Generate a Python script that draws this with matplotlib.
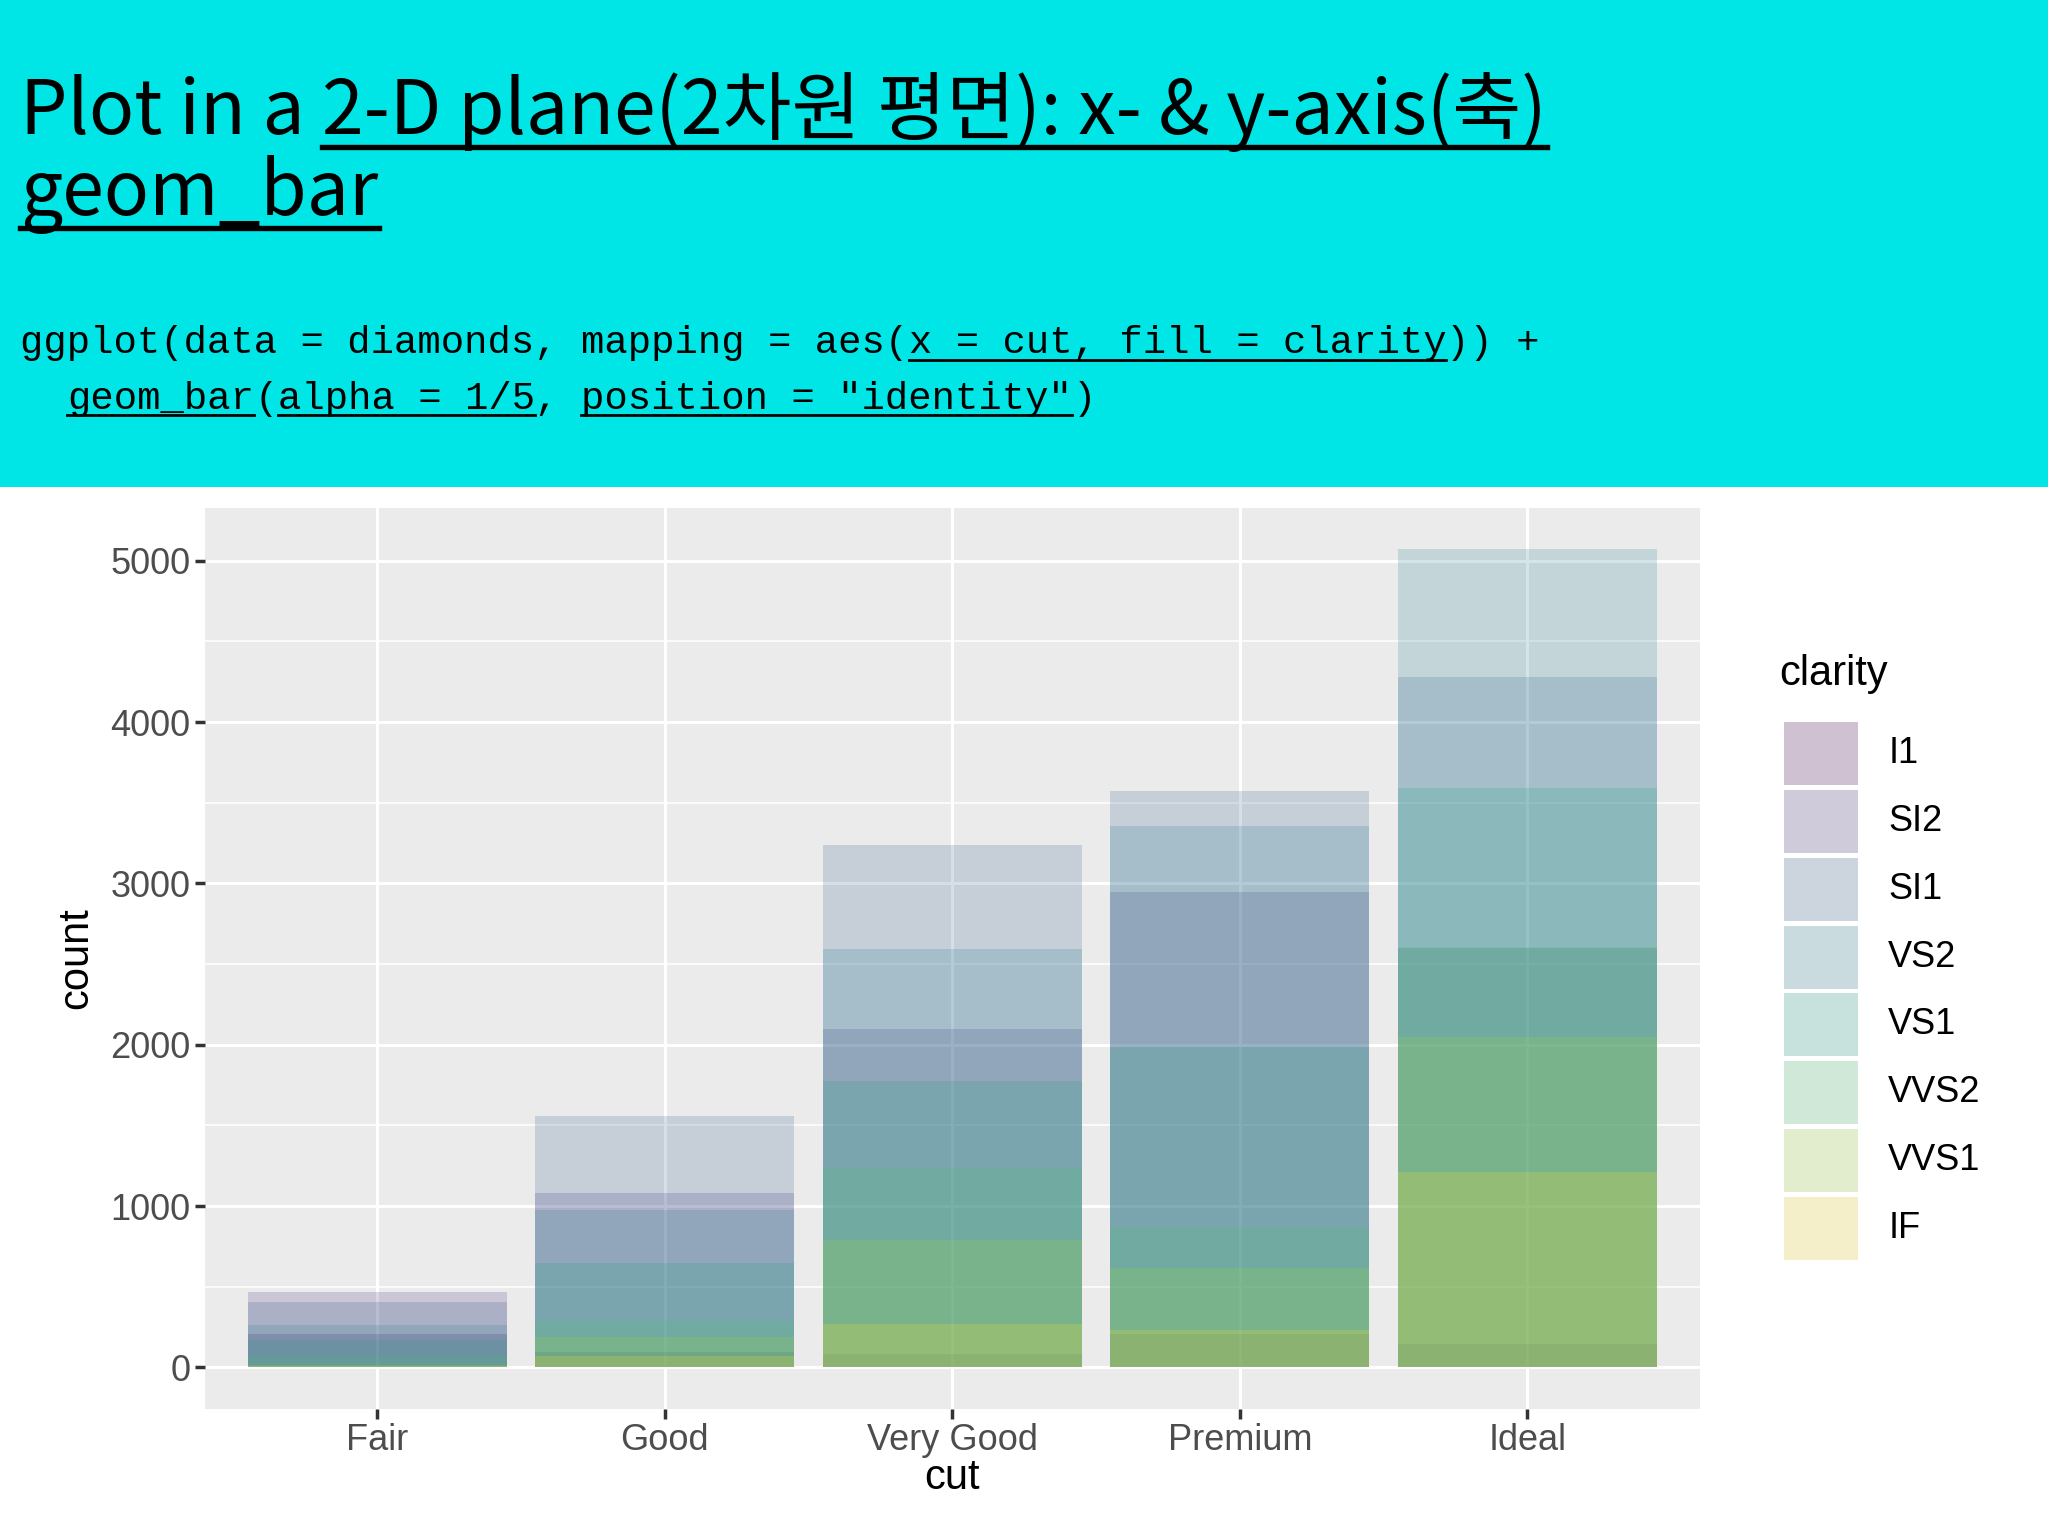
import matplotlib
matplotlib.use("Agg")
import matplotlib.pyplot as plt
import matplotlib.patches as patches
import numpy as np

# diamonds: counts by cut and clarity
cuts = ["Fair", "Good", "Very Good", "Premium", "Ideal"]
clarity = ["I1", "SI2", "SI1", "VS2", "VS1", "VVS2", "VVS1", "IF"]
counts = {
    "I1":   [210, 96, 84, 205, 146],
    "SI2":  [466, 1081, 2100, 2949, 2598],
    "SI1":  [408, 1560, 3240, 3575, 4282],
    "VS2":  [261, 978, 2591, 3357, 5071],
    "VS1":  [170, 648, 1775, 1989, 3589],
    "VVS2": [69, 286, 1235, 870, 2606],
    "VVS1": [17, 186, 789, 616, 2047],
    "IF":   [9, 71, 268, 230, 1212],
}
colours = ["#440154", "#46337E", "#365C8D", "#277F8E",
           "#1FA187", "#4AC16D", "#9FDA3A", "#FDE725"]

plt.rcParams['font.family'] = ['Liberation Sans', 'DejaVu Sans']

fig = plt.figure(figsize=(20.48, 15.36), dpi=100)
fig.patch.set_facecolor("white")

# cyan header band
fig.add_artist(patches.Rectangle((0, 0.683), 1, 0.317, transform=fig.transFigure,
                                 facecolor="#00E5E5", edgecolor="none", zorder=0))

renderer = fig.canvas.get_renderer()


def line_of_text(x, y, pieces, size, family):
    # pieces: (text, underline) drawn one after another
    for txt, ul in pieces:
        t = fig.text(x, y, txt, fontsize=size, family=family, va="baseline", ha="left")
        bb = t.get_window_extent(renderer=renderer).transformed(fig.transFigure.inverted())
        if ul:
            uy = y - size * 0.00016
            fig.add_artist(plt.Line2D([x, bb.x1], [uy, uy], transform=fig.transFigure,
                                      color="black", lw=size / 14))
        x = bb.x1


title_font = ["Noto Sans CJK KR", "DejaVu Sans"]
line_of_text(0.010, 0.913, [("Plot in a ", False),
                            ("2-D plane(2차원 평면): x- & y-axis(축)", True)], 54, title_font)
line_of_text(0.010, 0.860, [("geom_bar", True)], 54, title_font)

mono = ["Liberation Mono", "DejaVu Sans Mono"]
line_of_text(0.010, 0.770, [("ggplot(data = diamonds, mapping = aes(", False),
                            ("x = cut, fill = clarity", True), (")) +", False)], 28, mono)
line_of_text(0.010, 0.734, [("  ", False), ("geom_bar", True), ("(", False),
                            ("alpha = 1/5", True), (", ", False),
                            ("position = \"identity\"", True), (")", False)], 28, mono)

# plot panel
ax = fig.add_axes([0.100, 0.083, 0.730, 0.586])
ax.set_facecolor("#EBEBEB")
x = np.arange(len(cuts))
for name, col in zip(clarity, colours):
    ax.bar(x, counts[name], width=0.9, color=col, alpha=0.2, edgecolor="none", zorder=2)

ax.set_xlim(-0.6, 4.6)
ax.set_ylim(-255, 5325)
ax.set_yticks([0, 1000, 2000, 3000, 4000, 5000])
ax.set_yticks([500, 1500, 2500, 3500, 4500], minor=True)
ax.set_xticks(x)
ax.set_xticklabels(cuts)
ax.grid(True, which="major", color="white", lw=2.2, zorder=1)
ax.grid(True, which="minor", axis="y", color="white", lw=1.1, zorder=1)
for s in ax.spines.values():
    s.set_visible(False)
ax.tick_params(which="major", colors="#333333", labelcolor="#4D4D4D", labelsize=26,
               length=7, width=2.5)
ax.tick_params(which="minor", length=0)
ax.set_xlabel("cut", fontsize=30, labelpad=0)
ax.set_ylabel("count", fontsize=30, labelpad=10)

# legend
fig.text(0.869, 0.561, "clarity", fontsize=30, va="center", ha="left")
kw, kh = 0.036, 0.041
for i, (name, col) in enumerate(zip(clarity, colours)):
    y0 = 0.489 - i * 0.0442
    fig.add_artist(patches.Rectangle((0.871, y0), kw, kh, transform=fig.transFigure,
                                     facecolor="#F2F2F2", edgecolor="none"))
    fig.add_artist(patches.Rectangle((0.871, y0), kw, kh, transform=fig.transFigure,
                                     facecolor=col, alpha=0.2, edgecolor="none"))
    fig.text(0.922, y0 + kh / 2, name, fontsize=26, va="center", ha="left")

fig.savefig("out.png", dpi=100)
